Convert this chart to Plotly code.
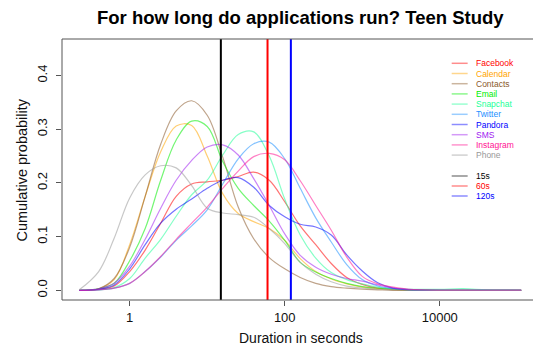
import plotly.graph_objects as go

# log10(duration in seconds) grid at which the curves were read
log_seconds = [-0.65, -0.4, -0.2, 0.0, 0.2, 0.4, 0.6, 0.8, 1.0, 1.2, 1.4, 1.6, 1.8,
               2.0, 2.2, 2.4, 2.6, 2.8, 3.0, 3.2, 3.4, 3.6, 4.0, 4.3, 4.6, 5.05]

apps = ["Facebook", "Calendar", "Contacts", "Email", "Snapchat",
        "Twitter", "Pandora", "SMS", "Instagram", "Phone"]

facebook = [0.0, 0.002, 0.008, 0.035, 0.075, 0.125, 0.175, 0.198, 0.202, 0.205, 0.212, 0.220, 0.205,
            0.165, 0.120, 0.085, 0.050, 0.024, 0.011, 0.004, 0.002, 0.001, 0.0, 0.0, 0.0, 0.0]
calendar = [0.0, 0.003, 0.020, 0.085, 0.175, 0.258, 0.306, 0.307, 0.250, 0.180, 0.143, 0.128, 0.115,
            0.093, 0.059, 0.035, 0.021, 0.012, 0.006, 0.003, 0.001, 0.0, 0.0, 0.0, 0.0, 0.0]
contacts = [0.0, 0.003, 0.022, 0.080, 0.175, 0.272, 0.334, 0.353, 0.326, 0.248, 0.155, 0.096, 0.061,
            0.040, 0.024, 0.013, 0.007, 0.004, 0.002, 0.001, 0.0, 0.0, 0.0, 0.0, 0.0, 0.0]
email = [0.0, 0.003, 0.013, 0.055, 0.115, 0.205, 0.280, 0.315, 0.305, 0.240, 0.190, 0.158, 0.129,
         0.093, 0.052, 0.034, 0.022, 0.013, 0.007, 0.004, 0.002, 0.001, 0.0, 0.0, 0.0, 0.0]
snapchat = [0.0, 0.001, 0.005, 0.022, 0.060, 0.095, 0.138, 0.178, 0.205, 0.252, 0.290, 0.295, 0.250,
            0.170, 0.103, 0.060, 0.033, 0.020, 0.012, 0.006, 0.003, 0.002, 0.002, 0.003, 0.001, 0.0]
twitter = [0.0, 0.001, 0.004, 0.013, 0.035, 0.062, 0.093, 0.120, 0.150, 0.198, 0.245, 0.273, 0.276,
           0.245, 0.190, 0.135, 0.090, 0.048, 0.020, 0.008, 0.003, 0.001, 0.0, 0.0, 0.0, 0.0]
pandora = [0.0, 0.002, 0.010, 0.040, 0.085, 0.125, 0.151, 0.170, 0.190, 0.205, 0.210, 0.192, 0.158,
           0.137, 0.123, 0.118, 0.103, 0.066, 0.036, 0.014, 0.004, 0.001, 0.0, 0.0, 0.0, 0.0]
sms = [0.0, 0.003, 0.013, 0.045, 0.095, 0.153, 0.205, 0.242, 0.267, 0.271, 0.252, 0.208, 0.158,
       0.105, 0.065, 0.043, 0.030, 0.022, 0.017, 0.010, 0.004, 0.002, 0.0, 0.0, 0.0, 0.0]
instagram = [0.0, 0.001, 0.004, 0.013, 0.035, 0.063, 0.095, 0.125, 0.155, 0.190, 0.222, 0.249, 0.255,
             0.243, 0.204, 0.158, 0.112, 0.062, 0.026, 0.012, 0.006, 0.002, 0.0, 0.0, 0.0, 0.0]
phone = [0.001, 0.035, 0.097, 0.172, 0.215, 0.232, 0.228, 0.195, 0.153, 0.144, 0.141, 0.136, 0.115,
         0.087, 0.052, 0.030, 0.016, 0.008, 0.004, 0.002, 0.001, 0.0, 0.0, 0.0, 0.0, 0.0]

series = [facebook, calendar, contacts, email, snapchat, twitter, pandora, sms, instagram, phone]
app_colors = ["#FF0000", "#FFA500", "#8B5A2B", "#00EE00", "#22FF99",
              "#1E90FF", "#0000FF", "#A020F0", "#FF1493", "#999999"]

thresholds = [15, 60, 120]
threshold_labels = ["15s", "60s", "120s"]
threshold_colors = ["#000000", "#FF0000", "#0000FF"]

x_ticks = [1, 100, 10000]
y_ticks = [0.0, 0.1, 0.2, 0.3, 0.4]


def rgba(hexc, a):
    h = hexc.lstrip("#")
    r, g, b = int(h[0:2], 16), int(h[2:4], 16), int(h[4:6], 16)
    return f"rgba({r},{g},{b},{a})"


x_vals = [10 ** v for v in log_seconds]

fig = go.Figure()
for name, vals, col in zip(apps, series, app_colors):
    fig.add_trace(go.Scatter(x=x_vals, y=vals, mode="lines", name=name,
                             line=dict(color=rgba(col, 0.55), width=1.2, shape="spline", smoothing=1.0),
                             showlegend=False, hoverinfo="skip"))

for t, col in zip(thresholds, threshold_colors):
    fig.add_trace(go.Scatter(x=[t, t], y=[-1, 2], mode="lines",
                             line=dict(color=col, width=2), showlegend=False, hoverinfo="skip"))

# the page body has an 8px margin; the figure is placed at (8, 8)
OFF = 8
# plot area in window pixels: x 61.5..539.5, y 39..300
L, R, T, B = 61.5, 539.5, 39, 300
W, H = 541 - OFF, 348 - OFF


def px(xp):
    return (xp - L) / (R - L)


def py(yp):
    return (B - yp) / (B - T)


shapes = [dict(type="rect", xref="paper", yref="paper", x0=0, x1=1, y0=0, y1=1,
               line=dict(color="#555555", width=1))]
annotations = []

legend_names = apps + threshold_labels
legend_cols = app_colors + threshold_colors
rows = [63.3 + 10.2 * i for i in range(10)] + [176.0, 186.0, 196.0]
for name, col, yrow in zip(legend_names, legend_cols, rows):
    shapes.append(dict(type="line", xref="paper", yref="paper",
                       x0=px(452), x1=px(468), y0=py(yrow), y1=py(yrow),
                       line=dict(color=rgba(col, 0.45), width=1.5)))
    annotations.append(dict(x=px(474.5), y=py(yrow), xref="paper", yref="paper",
                            text=name, showarrow=False, xanchor="left", yanchor="middle",
                            font=dict(size=8.5, color=col, family="Liberation Sans, Arial")))

annotations.append(dict(x=0.5, y=py(18), xref="paper", yref="paper",
                        text="<b>For how long do applications run? Teen Study</b>", showarrow=False,
                        xanchor="center", yanchor="middle",
                        font=dict(size=18.5, color="#000000", family="Liberation Sans, Arial")))
annotations.append(dict(x=px(300.5), y=py(338), xref="paper", yref="paper",
                        text="Duration in seconds", showarrow=False,
                        xanchor="center", yanchor="middle",
                        font=dict(size=14, color="#111111", family="Liberation Sans, Arial")))
annotations.append(dict(x=px(21), y=py(170), xref="paper", yref="paper",
                        text="Cumulative probability", showarrow=False, textangle=-90,
                        xanchor="center", yanchor="middle",
                        font=dict(size=14.5, color="#111111", family="Liberation Sans, Arial")))

fig.update_layout(
    width=W, height=H,
    margin=dict(l=L - OFF, r=541 - R, t=T - OFF, b=348 - B, pad=0),
    paper_bgcolor="white", plot_bgcolor="white",
    shapes=shapes, annotations=annotations,
    xaxis=dict(type="log", range=[-0.873, 5.28], tickvals=x_ticks,
               ticktext=[str(v) for v in x_ticks], ticks="outside", ticklen=5,
               tickcolor="#555555", showgrid=False, zeroline=False, showline=False,
               tickfont=dict(size=13, color="#111111", family="Liberation Sans, Arial")),
    yaxis=dict(range=[-0.018, 0.468], tickvals=y_ticks,
               ticktext=[f"{v:.1f}" for v in y_ticks], ticks="outside", ticklen=5,
               tickcolor="#555555", tickangle=-90, showgrid=False, zeroline=False, showline=False,
               ticklabelstandoff=4,
               tickfont=dict(size=13, color="#111111", family="Liberation Sans, Arial")),
)

fig.write_html("out.html")
